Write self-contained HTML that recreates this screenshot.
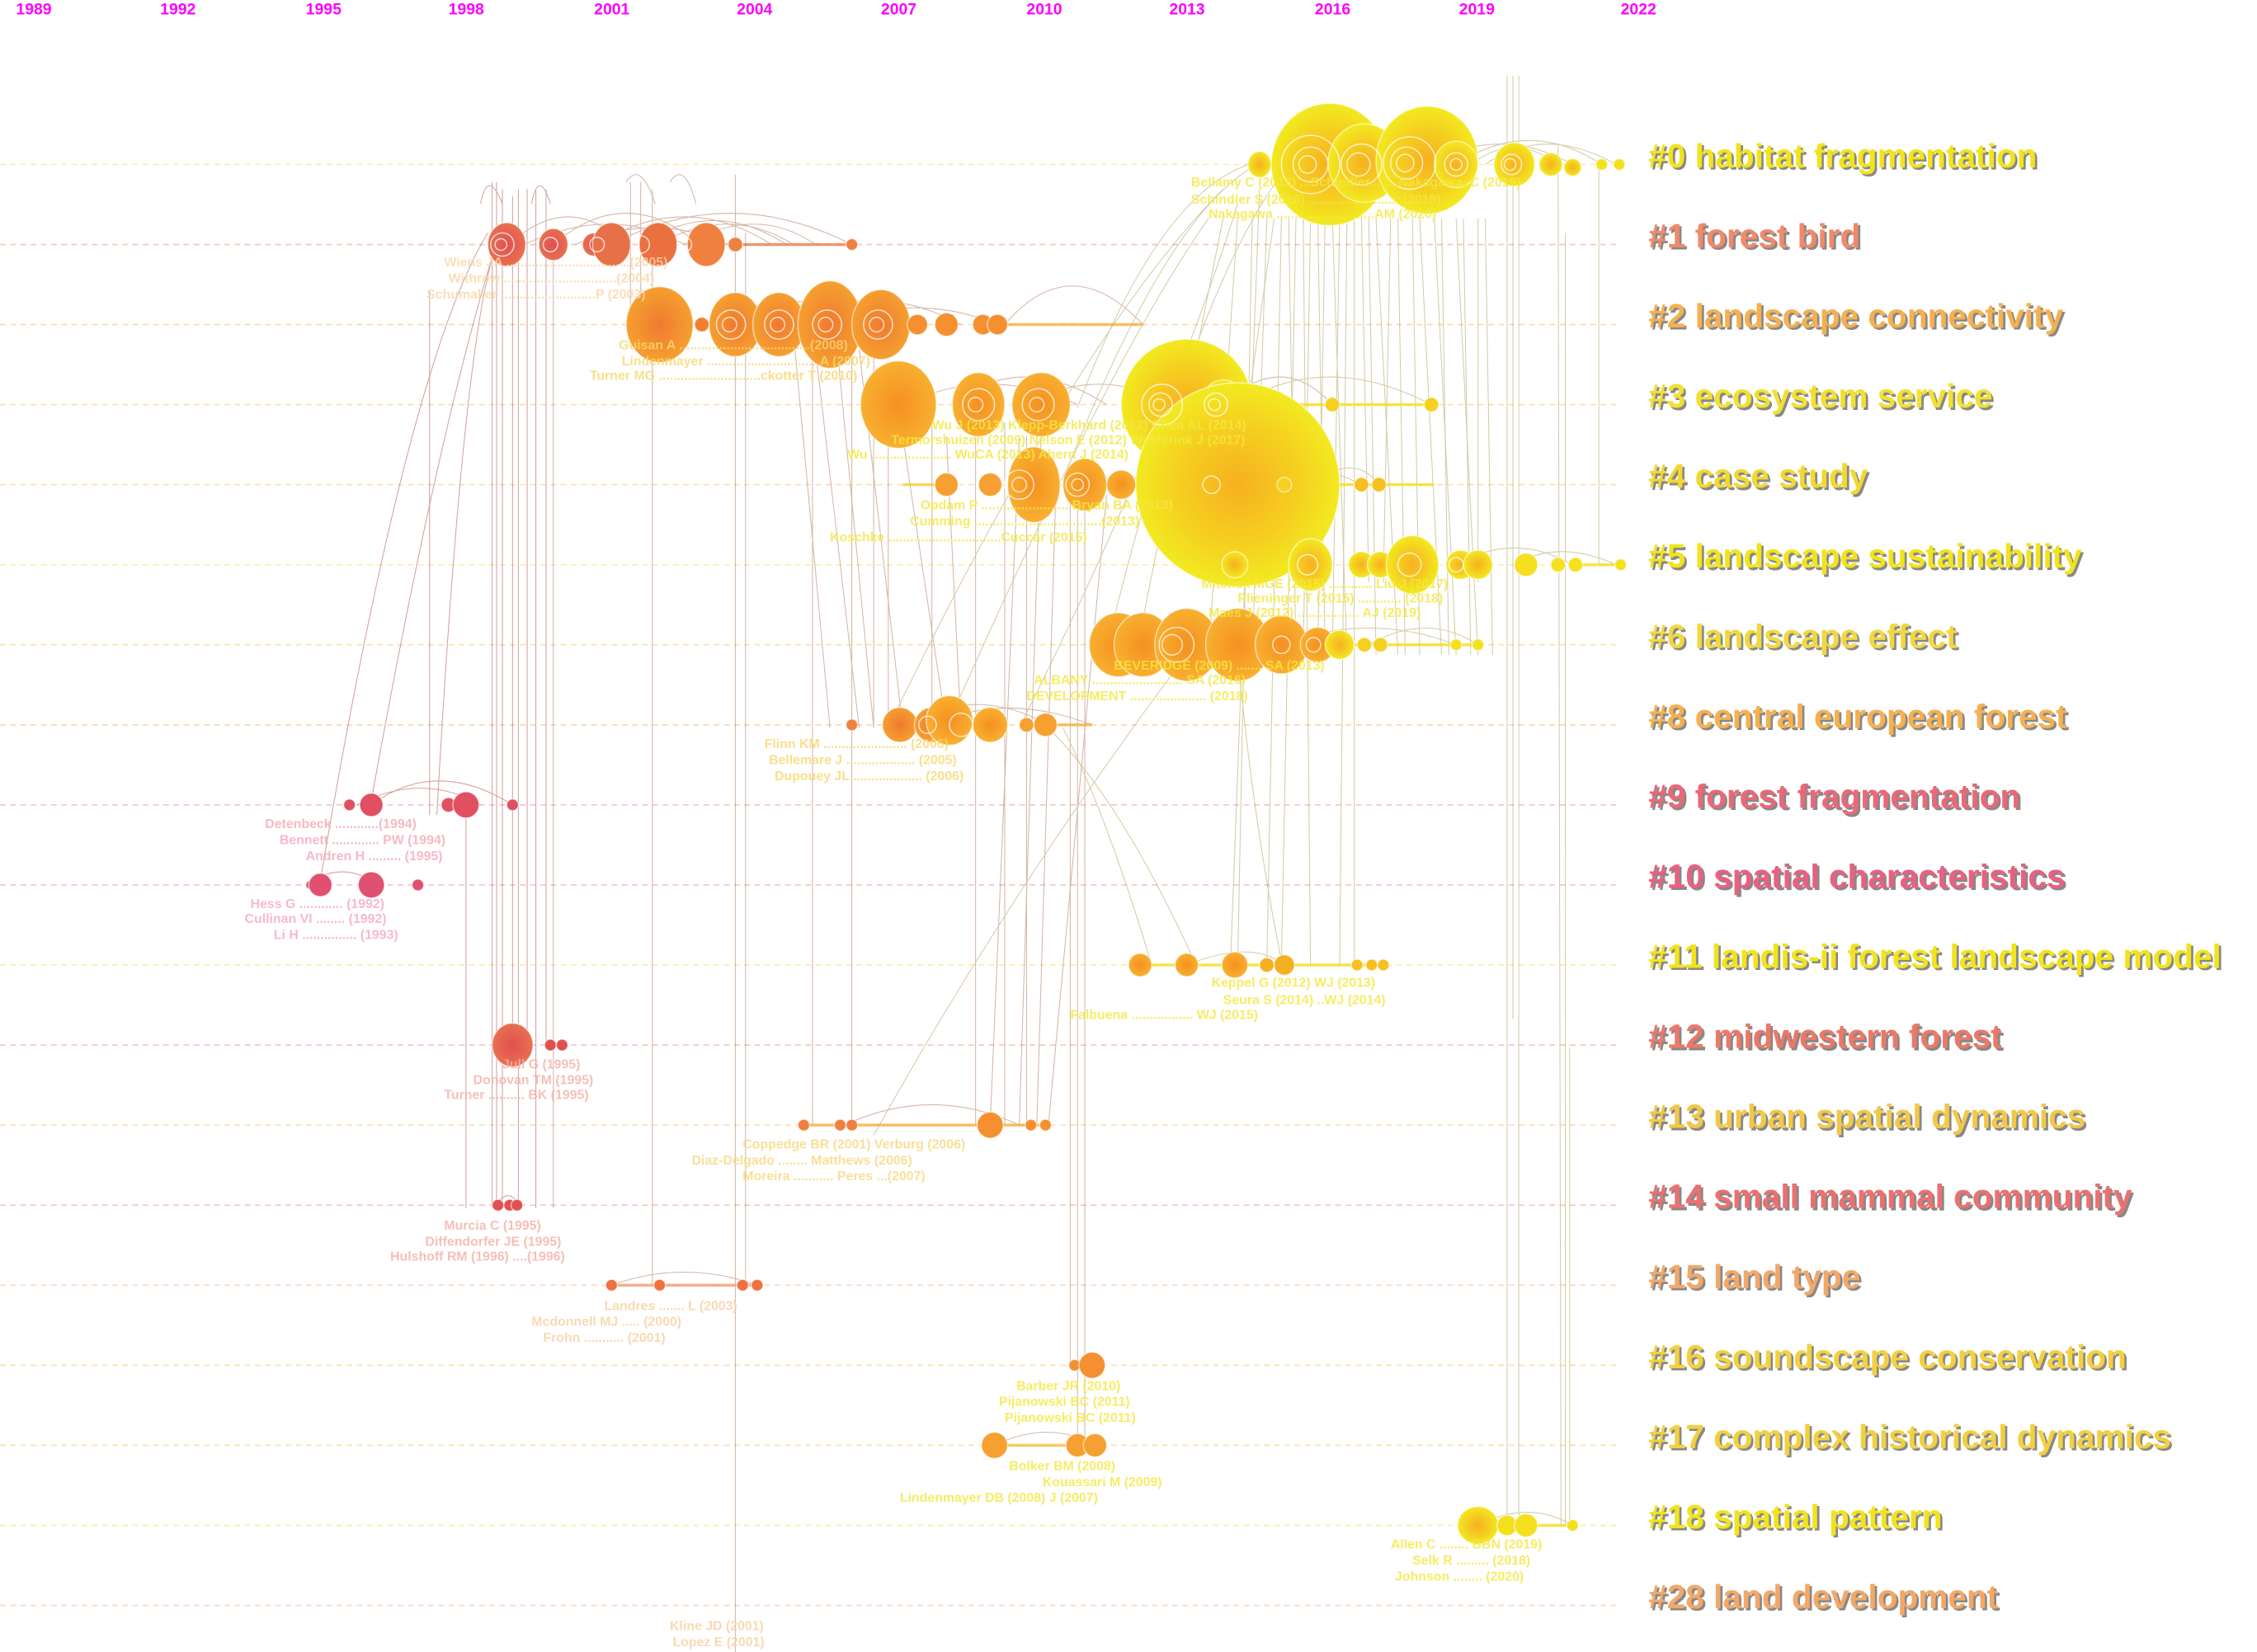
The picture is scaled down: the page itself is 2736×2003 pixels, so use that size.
<!DOCTYPE html>
<html><head><meta charset="utf-8"><style>
html,body{margin:0;padding:0;background:#fff;}
svg{display:block;}
.yr{font:bold 11px "Liberation Sans",sans-serif;fill:#ff00ff;}
.cl{font:bold 23px "Liberation Sans",sans-serif;}
.sh{fill:#888;}
.lb{font:bold 9px "Liberation Sans",sans-serif;}
</style></head><body>
<svg width="2736" height="2003" viewBox="0 0 1550 1135" preserveAspectRatio="none" xmlns="http://www.w3.org/2000/svg">
<defs>
<radialGradient id="gy"><stop offset="0" stop-color="#f7b020"/><stop offset="0.6" stop-color="#f5d020"/><stop offset="1" stop-color="#f2ea20"/></radialGradient>
<radialGradient id="go"><stop offset="0" stop-color="#f07a30"/><stop offset="1" stop-color="#f5a030"/></radialGradient>
<radialGradient id="gr"><stop offset="0" stop-color="#e05050"/><stop offset="1" stop-color="#e87050"/></radialGradient>
<radialGradient id="ga"><stop offset="0" stop-color="#f59020"/><stop offset="1" stop-color="#f8b030"/></radialGradient>
</defs>
<g class="yr">
<text x="11" y="10">1989</text><text x="110" y="10">1992</text><text x="210" y="10">1995</text><text x="308" y="10">1998</text><text x="408" y="10">2001</text><text x="506" y="10">2004</text><text x="605" y="10">2007</text><text x="705" y="10">2010</text><text x="803" y="10">2013</text><text x="903" y="10">2016</text><text x="1002" y="10">2019</text><text x="1113" y="10">2022</text>
</g>
<g stroke-width="1" stroke-dasharray="4,3" fill="none" opacity="0.6">
<line x1="0" y1="113" x2="1110" y2="113" stroke="#f8e080"/>
<line x1="0" y1="168" x2="1110" y2="168" stroke="#f4a090"/>
<line x1="0" y1="223" x2="1110" y2="223" stroke="#f8c080"/>
<line x1="0" y1="278" x2="1110" y2="278" stroke="#f8d080"/>
<line x1="0" y1="333" x2="1110" y2="333" stroke="#f8d080"/>
<line x1="0" y1="388" x2="1110" y2="388" stroke="#f8e080"/>
<line x1="0" y1="443" x2="1110" y2="443" stroke="#f8d080"/>
<line x1="0" y1="498" x2="1110" y2="498" stroke="#f8c080"/>
<line x1="0" y1="553" x2="1110" y2="553" stroke="#f0a0b0"/>
<line x1="0" y1="608" x2="1110" y2="608" stroke="#f0a0b0"/>
<line x1="0" y1="663" x2="1110" y2="663" stroke="#f8e080"/>
<line x1="0" y1="718" x2="1110" y2="718" stroke="#f4a0a0"/>
<line x1="0" y1="773" x2="1110" y2="773" stroke="#f8d090"/>
<line x1="0" y1="828" x2="1110" y2="828" stroke="#f4a0a0"/>
<line x1="0" y1="883" x2="1110" y2="883" stroke="#f8c0a0"/>
<line x1="0" y1="938" x2="1110" y2="938" stroke="#f8d080"/>
<line x1="0" y1="993" x2="1110" y2="993" stroke="#f8d080"/>
<line x1="0" y1="1048" x2="1110" y2="1048" stroke="#f8e080"/>
<line x1="0" y1="1103" x2="1110" y2="1103" stroke="#f8c0a0"/>
</g>
<g fill="none" stroke-width="0.6" opacity="0.45">
<g stroke="#a03030">
<line x1="338" y1="125" x2="338" y2="830"/><line x1="341" y1="125" x2="341" y2="830"/><line x1="345" y1="130" x2="345" y2="830"/><line x1="352" y1="135" x2="352" y2="720"/><line x1="368" y1="130" x2="368" y2="830"/><line x1="375" y1="130" x2="375" y2="720"/><line x1="320" y1="550" x2="320" y2="830"/><line x1="295" y1="200" x2="295" y2="560"/><line x1="356" y1="130" x2="356" y2="830"/><line x1="362" y1="130" x2="362" y2="720"/>
<path d="M300 560 Q320 200 345 160"/><path d="M255 550 Q300 300 340 170"/><path d="M220 605 Q280 250 335 160"/><path d="M330 140 Q335 115 345 140"/><path d="M365 140 Q370 115 378 140"/>
<path d="M210 608 Q235 590 260 608"/><path d="M245 553 Q290 530 330 553"/><path d="M255 553 Q300 520 352 553"/><path d="M340 828 Q350 815 356 828"/>
</g>
<g stroke="#a06040">
<path d="M350 168 Q390 130 430 168"/><path d="M380 168 Q430 125 480 168"/><path d="M410 168 Q470 130 530 168"/><path d="M420 168 Q500 125 585 168"/><path d="M452 168 Q500 140 545 168"/><path d="M360 168 Q420 140 470 168"/><path d="M395 168 Q450 145 500 168"/><path d="M440 168 Q490 135 540 168"/><path d="M470 168 Q520 140 560 168"/>
<line x1="433" y1="125" x2="433" y2="223"/><line x1="440" y1="125" x2="440" y2="223"/><line x1="448" y1="130" x2="448" y2="883"/><line x1="505" y1="120" x2="505" y2="1135"/><line x1="512" y1="160" x2="512" y2="883"/><line x1="380" y1="170" x2="380" y2="830"/>
<path d="M430 125 Q440 110 450 140"/><path d="M460 125 Q470 110 478 140"/>
<line x1="585" y1="230" x2="585" y2="773"/><line x1="600" y1="230" x2="600" y2="500"/><line x1="610" y1="290" x2="610" y2="500"/><line x1="640" y1="290" x2="640" y2="500"/><line x1="670" y1="290" x2="670" y2="773"/><line x1="690" y1="290" x2="690" y2="773"/><line x1="705" y1="300" x2="705" y2="773"/><line x1="735" y1="340" x2="735" y2="938"/><line x1="740" y1="340" x2="740" y2="993"/><line x1="745" y1="350" x2="745" y2="993"/><line x1="558" y1="230" x2="558" y2="773"/>
<line x1="545" y1="230" x2="570" y2="500"/><line x1="560" y1="240" x2="590" y2="500"/><line x1="575" y1="240" x2="600" y2="500"/><line x1="590" y1="240" x2="620" y2="500"/><line x1="620" y1="300" x2="650" y2="500"/><line x1="650" y1="300" x2="660" y2="500"/><line x1="700" y1="300" x2="680" y2="773"/><line x1="715" y1="300" x2="700" y2="773"/><line x1="725" y1="340" x2="712" y2="773"/><line x1="760" y1="340" x2="720" y2="773"/>
<path d="M690 223 Q735 170 785 223"/><path d="M655 278 Q700 240 760 278"/><path d="M840 278 Q880 240 915 278"/><path d="M620 278 Q680 250 740 278"/><path d="M700 278 Q760 250 800 278"/><path d="M620 498 Q670 470 720 498"/><path d="M640 498 Q690 475 750 498"/><path d="M580 773 Q640 745 700 773"/><path d="M420 883 Q470 865 520 883"/><path d="M740 938 Q745 930 750 938"/><path d="M683 993 Q720 975 752 993"/>
<path d="M505 223 Q560 190 620 223"/><path d="M535 223 Q600 190 660 223"/><path d="M570 223 Q630 200 685 223"/>
</g>
<g stroke="#a09040">
<line x1="1035" y1="52" x2="1035" y2="1048"/><line x1="1043" y1="52" x2="1043" y2="1048"/><line x1="1075" y1="160" x2="1075" y2="1048"/><line x1="1078" y1="720" x2="1078" y2="1048"/><line x1="1098" y1="113" x2="1098" y2="388"/><line x1="1039" y1="52" x2="1039" y2="700"/><line x1="1070" y1="100" x2="1072" y2="1048"/>
<line x1="880" y1="150" x2="870" y2="663"/><line x1="890" y1="150" x2="880" y2="663"/><line x1="900" y1="150" x2="895" y2="450"/><line x1="910" y1="150" x2="905" y2="450"/><line x1="920" y1="150" x2="915" y2="450"/><line x1="930" y1="150" x2="930" y2="663"/><line x1="940" y1="150" x2="945" y2="450"/><line x1="955" y1="150" x2="950" y2="400"/><line x1="970" y1="150" x2="975" y2="450"/><line x1="985" y1="150" x2="1000" y2="450"/><line x1="1000" y1="150" x2="1015" y2="450"/><line x1="1015" y1="150" x2="1015" y2="400"/><line x1="860" y1="150" x2="850" y2="663"/><line x1="850" y1="150" x2="830" y2="450"/><line x1="840" y1="150" x2="780" y2="450"/>
<line x1="885" y1="150" x2="890" y2="450"/><line x1="895" y1="150" x2="900" y2="663"/><line x1="905" y1="150" x2="910" y2="450"/><line x1="915" y1="150" x2="925" y2="450"/><line x1="925" y1="150" x2="920" y2="663"/><line x1="935" y1="150" x2="940" y2="400"/><line x1="945" y1="150" x2="960" y2="450"/><line x1="960" y1="150" x2="965" y2="450"/><line x1="975" y1="150" x2="990" y2="450"/><line x1="990" y1="150" x2="995" y2="450"/><line x1="1005" y1="150" x2="1010" y2="450"/><line x1="1020" y1="150" x2="1025" y2="450"/><line x1="870" y1="150" x2="860" y2="450"/><line x1="865" y1="130" x2="845" y2="663"/><line x1="875" y1="150" x2="840" y2="400"/>
<path d="M740 280 Q800 120 870 110"/><path d="M760 445 Q820 200 880 120"/><path d="M700 500 Q800 300 850 140"/><path d="M650 500 Q760 250 830 150"/><path d="M610 500 Q740 230 840 130"/><path d="M730 330 Q800 150 860 115"/>
<path d="M1000 113 Q1050 80 1100 113"/><path d="M1020 113 Q1060 85 1110 113"/><path d="M1010 113 Q1040 90 1070 113"/><path d="M980 113 Q1030 85 1080 113"/><path d="M1040 388 Q1070 370 1110 388"/><path d="M1000 388 Q1040 365 1080 388"/><path d="M940 443 Q980 420 1015 443"/><path d="M880 443 Q940 420 1000 443"/><path d="M850 278 Q910 240 983 278"/><path d="M800 333 Q870 300 935 333"/><path d="M900 333 Q930 310 947 333"/><path d="M815 663 Q860 645 882 663"/><path d="M1015 1048 Q1050 1030 1080 1048"/>
<path d="M600 780 Q700 600 830 430"/><path d="M880 660 Q860 560 850 450"/><path d="M820 660 Q770 550 720 500"/><path d="M790 660 Q760 560 730 500"/>
</g>
</g>
<g stroke-width="2" opacity="0.8">
<line x1="505" y1="168" x2="585" y2="168" stroke="#f08050"/>
<line x1="690" y1="223" x2="785" y2="223" stroke="#f8b040"/>
<line x1="870" y1="278" x2="983" y2="278" stroke="#f5e020"/>
<line x1="620" y1="333" x2="650" y2="333" stroke="#f5d040"/><line x1="882" y1="333" x2="985" y2="333" stroke="#f5e020"/>
<line x1="1082" y1="388" x2="1113" y2="388" stroke="#f5e020"/>
<line x1="920" y1="443" x2="1015" y2="443" stroke="#f5e020"/>
<line x1="705" y1="498" x2="750" y2="498" stroke="#f8b040"/>
<line x1="783" y1="663" x2="950" y2="663" stroke="#f5e020"/>
<line x1="552" y1="773" x2="718" y2="773" stroke="#f8b040"/>
<line x1="420" y1="883" x2="520" y2="883" stroke="#f0a070"/>
<line x1="683" y1="993" x2="752" y2="993" stroke="#f5c040"/>
<line x1="1015" y1="1048" x2="1080" y2="1048" stroke="#f5e020"/>
</g>
<g stroke="#fff" stroke-width="0.8" stroke-opacity="0.6">
<ellipse cx="865" cy="113" rx="8" ry="9" fill="url(#gy)"/>
<ellipse cx="913" cy="113" rx="40" ry="42" fill="url(#gy)"/>
<ellipse cx="937" cy="112" rx="25" ry="27" fill="url(#gy)"/>
<ellipse cx="980" cy="110" rx="35" ry="37" fill="url(#gy)"/>
<ellipse cx="1000" cy="113" rx="15" ry="16" fill="url(#gy)"/>
<ellipse cx="1040" cy="113" rx="14" ry="15" fill="url(#gy)"/>
<circle cx="1065" cy="113" r="8" fill="url(#gy)"/><circle cx="1080" cy="115" r="6" fill="url(#gy)"/><circle cx="1100" cy="113" r="4" fill="#f5e020"/><circle cx="1112" cy="113" r="4" fill="#f5e020"/>
<ellipse cx="348" cy="168" rx="13" ry="15" fill="url(#gr)"/><ellipse cx="380" cy="168" rx="10" ry="11" fill="url(#gr)"/><circle cx="408" cy="168" r="8" fill="url(#gr)"/><ellipse cx="420" cy="168" rx="13" ry="15" fill="#e87048"/><ellipse cx="452" cy="168" rx="13" ry="15" fill="#ea7040"/><ellipse cx="485" cy="168" rx="13" ry="15" fill="#f08040"/><circle cx="505" cy="168" r="5" fill="#f08040"/><circle cx="585" cy="168" r="4" fill="#f08040"/>
<ellipse cx="453" cy="223" rx="23" ry="26" fill="url(#go)"/><circle cx="482" cy="223" r="5" fill="#f08030"/><ellipse cx="505" cy="223" rx="18" ry="22" fill="url(#go)"/><ellipse cx="535" cy="223" rx="18" ry="22" fill="url(#go)"/><ellipse cx="570" cy="223" rx="22" ry="30" fill="url(#go)"/><ellipse cx="605" cy="223" rx="20" ry="24" fill="url(#go)"/><circle cx="630" cy="223" r="7" fill="#f59030"/><circle cx="650" cy="223" r="8" fill="#f59030"/><circle cx="675" cy="223" r="7" fill="#f59030"/><circle cx="685" cy="223" r="7" fill="#f59030"/>
<ellipse cx="617" cy="278" rx="26" ry="30" fill="url(#ga)"/><ellipse cx="672" cy="278" rx="18" ry="22" fill="url(#ga)"/><ellipse cx="715" cy="278" rx="20" ry="22" fill="url(#ga)"/><ellipse cx="815" cy="278" rx="45" ry="45" fill="url(#gy)"/><ellipse cx="840" cy="278" rx="15" ry="17" fill="url(#gy)"/><circle cx="870" cy="278" r="10" fill="url(#gy)"/><circle cx="915" cy="278" r="5" fill="#f5d020"/><circle cx="983" cy="278" r="5" fill="#f5d020"/>
<circle cx="650" cy="333" r="8" fill="#f5a030"/><circle cx="680" cy="333" r="8" fill="#f5a030"/><ellipse cx="710" cy="333" rx="18" ry="26" fill="url(#ga)"/><ellipse cx="745" cy="333" rx="15" ry="18" fill="url(#ga)"/><circle cx="770" cy="333" r="10" fill="url(#ga)"/>
<ellipse cx="850" cy="333" rx="70" ry="70" fill="url(#gy)"/><circle cx="882" cy="333" r="5" fill="#f5d020"/><circle cx="935" cy="333" r="5" fill="#f5c020"/><circle cx="947" cy="333" r="5" fill="#f5c020"/>
<circle cx="848" cy="388" r="9" fill="url(#gy)"/><ellipse cx="900" cy="388" rx="15" ry="18" fill="url(#gy)"/><circle cx="935" cy="388" r="9" fill="url(#gy)"/><circle cx="948" cy="388" r="9" fill="url(#gy)"/><ellipse cx="970" cy="388" rx="18" ry="20" fill="url(#gy)"/><circle cx="1003" cy="388" r="10" fill="url(#gy)"/><circle cx="1015" cy="388" r="10" fill="url(#gy)"/><circle cx="1048" cy="388" r="8" fill="#f5e020"/><circle cx="1070" cy="388" r="5" fill="#f5e020"/><circle cx="1082" cy="388" r="5" fill="#f5e020"/><circle cx="1113" cy="388" r="4" fill="#f5e020"/>
<ellipse cx="768" cy="443" rx="20" ry="22" fill="url(#ga)"/><ellipse cx="785" cy="443" rx="20" ry="22" fill="url(#ga)"/><ellipse cx="815" cy="443" rx="22" ry="25" fill="url(#ga)"/><ellipse cx="850" cy="443" rx="22" ry="25" fill="url(#ga)"/><ellipse cx="880" cy="443" rx="18" ry="20" fill="url(#ga)"/><circle cx="905" cy="443" r="12" fill="url(#ga)"/><circle cx="920" cy="443" r="10" fill="url(#gy)"/><circle cx="937" cy="443" r="5" fill="#f5d020"/><circle cx="948" cy="443" r="5" fill="#f5d020"/><circle cx="1000" cy="443" r="4" fill="#f5e020"/><circle cx="1015" cy="443" r="4" fill="#f5e020"/>
<circle cx="585" cy="498" r="4" fill="#f08040"/><circle cx="618" cy="498" r="12" fill="url(#go)"/><circle cx="640" cy="498" r="12" fill="url(#go)"/><ellipse cx="652" cy="495" rx="16" ry="17" fill="url(#ga)"/><circle cx="680" cy="498" r="12" fill="url(#ga)"/><circle cx="705" cy="498" r="5" fill="#f5a030"/><circle cx="718" cy="498" r="8" fill="#f5a030"/>
<circle cx="240" cy="553" r="4" fill="#e05060"/><circle cx="255" cy="553" r="8" fill="#e05060"/><circle cx="308" cy="553" r="5" fill="#e05060"/><circle cx="320" cy="553" r="9" fill="#e05060"/><circle cx="352" cy="553" r="4" fill="#e05060"/>
<circle cx="213" cy="608" r="3" fill="#e05070"/><circle cx="220" cy="608" r="8" fill="#e05070"/><circle cx="255" cy="608" r="9" fill="#e05070"/><circle cx="287" cy="608" r="4" fill="#e05070"/>
<circle cx="783" cy="663" r="8" fill="url(#ga)"/><circle cx="815" cy="663" r="8" fill="url(#ga)"/><circle cx="848" cy="663" r="9" fill="url(#ga)"/><circle cx="870" cy="663" r="5" fill="#f5b020"/><circle cx="882" cy="663" r="7" fill="#f5b020"/><circle cx="932" cy="663" r="4" fill="#f5c020"/><circle cx="942" cy="663" r="4" fill="#f5c020"/><circle cx="950" cy="663" r="4" fill="#f5c020"/>
<ellipse cx="352" cy="718" rx="14" ry="15" fill="url(#gr)"/><circle cx="378" cy="718" r="4" fill="#e05050"/><circle cx="386" cy="718" r="4" fill="#e05050"/>
<circle cx="552" cy="773" r="4" fill="#f08040"/><circle cx="577" cy="773" r="4" fill="#f08040"/><circle cx="585" cy="773" r="4" fill="#f08040"/><circle cx="680" cy="773" r="9" fill="#f59030"/><circle cx="708" cy="773" r="4" fill="#f59030"/><circle cx="718" cy="773" r="4" fill="#f59030"/>
<circle cx="342" cy="828" r="4" fill="#e05050"/><circle cx="350" cy="828" r="4" fill="#e05050"/><circle cx="355" cy="828" r="4" fill="#e05050"/>
<circle cx="420" cy="883" r="4" fill="#f07040"/><circle cx="453" cy="883" r="4" fill="#f07040"/><circle cx="510" cy="883" r="4" fill="#f07040"/><circle cx="520" cy="883" r="4" fill="#f07040"/>
<circle cx="738" cy="938" r="4" fill="#f59030"/><circle cx="750" cy="938" r="9" fill="#f59030"/>
<circle cx="683" cy="993" r="9" fill="#f5a030"/><circle cx="740" cy="993" r="8" fill="#f5a030"/><circle cx="752" cy="993" r="8" fill="#f5a030"/>
<ellipse cx="1015" cy="1048" rx="14" ry="13" fill="url(#gy)"/><circle cx="1035" cy="1048" r="7" fill="#f5e020"/><circle cx="1048" cy="1048" r="8" fill="#f5e020"/><circle cx="1080" cy="1048" r="4" fill="#f5e020"/>
</g>
<g fill="none" stroke="#fff" stroke-width="0.9" opacity="0.7">
<circle cx="900" cy="113" r="20"/><circle cx="900" cy="113" r="12"/><circle cx="898" cy="113" r="6"/>
<circle cx="935" cy="113" r="14"/><circle cx="933" cy="113" r="8"/>
<circle cx="968" cy="112" r="18"/><circle cx="966" cy="112" r="11"/><circle cx="965" cy="112" r="6"/>
<circle cx="1000" cy="113" r="8"/><circle cx="1000" cy="113" r="4"/><circle cx="1038" cy="113" r="7"/><circle cx="1037" cy="113" r="4"/>
<circle cx="345" cy="168" r="8"/><circle cx="344" cy="168" r="4"/><circle cx="378" cy="168" r="5"/><circle cx="410" cy="168" r="5"/><circle cx="440" cy="168" r="6"/><circle cx="470" cy="168" r="5"/>
<circle cx="502" cy="223" r="10"/><circle cx="501" cy="223" r="5"/><circle cx="535" cy="223" r="10"/><circle cx="534" cy="223" r="5"/><circle cx="568" cy="223" r="10"/><circle cx="567" cy="223" r="5"/><circle cx="603" cy="223" r="10"/><circle cx="602" cy="223" r="5"/>
<circle cx="672" cy="278" r="11"/><circle cx="670" cy="278" r="5"/><circle cx="713" cy="278" r="11"/><circle cx="712" cy="278" r="5"/><circle cx="798" cy="278" r="14"/><circle cx="797" cy="278" r="8"/><circle cx="796" cy="278" r="4"/><circle cx="835" cy="278" r="8"/><circle cx="834" cy="278" r="4"/>
<circle cx="700" cy="333" r="10"/><circle cx="700" cy="333" r="5"/><circle cx="740" cy="333" r="8"/><circle cx="740" cy="333" r="4"/><circle cx="832" cy="333" r="6"/>
<circle cx="898" cy="388" r="7"/><circle cx="968" cy="388" r="8"/><circle cx="1000" cy="388" r="5"/>
<circle cx="808" cy="443" r="12"/><circle cx="805" cy="443" r="7"/><circle cx="880" cy="443" r="6"/><circle cx="902" cy="443" r="5"/>
<circle cx="637" cy="498" r="6"/><circle cx="660" cy="498" r="8"/>
</g>
<g class="lb" opacity="0.8">
<g fill="#f5e840"><text x="818" y="128">Bellamy C (2013) ...Schindler........Nakagawa..C (2019)</text><text x="818" y="140">Schindler S (2016) ..........................(2019)</text><text x="830" y="150">Nakagawa ...........................AM (2020)</text></g>
<g fill="#f8d8a8"><text x="305" y="183">Wiens JA ..................................(2005)</text><text x="308" y="194">Withrow ...............................(2004)</text><text x="293" y="205">Schumaker ..........................P (2003)</text></g>
<g fill="#f8d870"><text x="425" y="240">Guisan A ....................................(2008)</text><text x="427" y="251">Lindenmayer ...............................A (2007)</text><text x="405" y="261">Turner MG ............................ckotter T (2010)</text></g>
<g fill="#f5e840"><text x="640" y="295">Wu J (2013) Klepp-Berkhard (2012)  Chen AL (2014)</text><text x="612" y="305">Termorshuizen (2009) Nelson E (2012) Westerink J (2017)</text><text x="582" y="315">Wu ...................... WuCA (2013)  Ahern J (2014)</text></g>
<g fill="#f5e840"><text x="632" y="350">Opdam P ........................ Bryan BA (2013)</text><text x="625" y="361">Cumming ...................................(2013)</text><text x="570" y="372">Koschke ...............................Cuccar (2015)</text></g>
<g fill="#f5e840"><text x="825" y="404">Mitchell MGE (2015) ............ Liu J (2017)</text><text x="850" y="414">Plieninger T (2015) ............ (2018)</text><text x="830" y="424">Maes J (2012) ................. AJ (2019)</text></g>
<g fill="#f5e840"><text x="765" y="460">BEVERIDGE (2009) ....... SA (2013)</text><text x="710" y="470">ALBANY ......................... SA (2016)</text><text x="705" y="481">DEVELOPMENT ..................... (2018)</text></g>
<g fill="#f8d870"><text x="525" y="514">Flinn KM ....................... (2006)</text><text x="528" y="525">Bellemare J ................... (2005)</text><text x="532" y="536">Dupouey JL ................... (2006)</text></g>
<g fill="#f4a8b8"><text x="182" y="569">Detenbeck ............(1994)</text><text x="192" y="580">Bennett ............. PW (1994)</text><text x="210" y="591">Andren H ......... (1995)</text></g>
<g fill="#f4a8c8"><text x="172" y="624">Hess G ............ (1992)</text><text x="168" y="634">Cullinan VI ........ (1992)</text><text x="188" y="645">Li H ............... (1993)</text></g>
<g fill="#f5e840"><text x="832" y="678">Keppel G (2012)  WJ (2013)</text><text x="840" y="690">Seura S (2014) ..WJ (2014)</text><text x="735" y="700">Falbuena ................. WJ (2015)</text></g>
<g fill="#f4b0a8"><text x="345" y="734">Jull G (1995)</text><text x="325" y="745">Donovan TM (1995)</text><text x="305" y="755">Turner .......... BK (1995)</text></g>
<g fill="#f8d880"><text x="510" y="789">Coppedge BR (2001) Verburg (2006)</text><text x="475" y="800">Diaz-Delgado ........ Matthews (2006)</text><text x="510" y="811">Moreira ........... Peres ...(2007)</text></g>
<g fill="#f4b0a8"><text x="305" y="845">Murcia C (1995)</text><text x="292" y="856">Diffendorfer JE (1995)</text><text x="268" y="866">Hulshoff RM (1996) ....(1996)</text></g>
<g fill="#f8d0a0"><text x="415" y="900">Landres ....... L (2003)</text><text x="365" y="911">Mcdonnell MJ ..... (2000)</text><text x="373" y="922">Frohn ........... (2001)</text></g>
<g fill="#f5e840"><text x="698" y="955">Barber JR (2010)</text><text x="686" y="966">Pijanowski BC (2011)</text><text x="690" y="977">Pijanowski BC (2011)</text></g>
<g fill="#f5e840"><text x="693" y="1010">Bolker BM (2008)</text><text x="716" y="1021">Kouassari M (2009)</text><text x="618" y="1032">Lindenmayer DB (2008)  J (2007)</text></g>
<g fill="#f5e840"><text x="955" y="1064">Allen C ........ BBN (2019)</text><text x="970" y="1075">Selk R ......... (2018)</text><text x="958" y="1086">Johnson ........ (2020)</text></g>
<g fill="#f8d0a0"><text x="460" y="1120">Kline JD (2001)</text><text x="462" y="1131">Lopez E (2001)</text><text x="477" y="1142">Irwin EG (2001)</text></g>
</g>
<g class="cl">
<g class="sh" transform="translate(1.5,1.5)">
<text x="1132" y="115">#0 habitat fragmentation</text><text x="1132" y="170">#1 forest bird</text><text x="1132" y="225">#2 landscape connectivity</text><text x="1132" y="280">#3 ecosystem service</text><text x="1132" y="335">#4 case study</text><text x="1132" y="390">#5 landscape sustainability</text><text x="1132" y="445">#6 landscape effect</text><text x="1132" y="500">#8 central european forest</text><text x="1132" y="555">#9 forest fragmentation</text><text x="1132" y="610">#10 spatial characteristics</text><text x="1132" y="665">#11 landis-ii forest landscape model</text><text x="1132" y="720">#12 midwestern forest</text><text x="1132" y="775">#13 urban spatial dynamics</text><text x="1132" y="830">#14 small mammal community</text><text x="1132" y="885">#15 land type</text><text x="1132" y="940">#16 soundscape conservation</text><text x="1132" y="995">#17 complex historical dynamics</text><text x="1132" y="1050">#18 spatial pattern</text><text x="1132" y="1105">#28 land development</text>
</g>
<text x="1132" y="115" fill="#f2e31c">#0 habitat fragmentation</text>
<text x="1132" y="170" fill="#f08a6a">#1 forest bird</text>
<text x="1132" y="225" fill="#f5b050">#2 landscape connectivity</text>
<text x="1132" y="280" fill="#f2e030">#3 ecosystem service</text>
<text x="1132" y="335" fill="#f2d830">#4 case study</text>
<text x="1132" y="390" fill="#f2e31c">#5 landscape sustainability</text>
<text x="1132" y="445" fill="#f2d840">#6 landscape effect</text>
<text x="1132" y="500" fill="#f5b050">#8 central european forest</text>
<text x="1132" y="555" fill="#ea6878">#9 forest fragmentation</text>
<text x="1132" y="610" fill="#ea6080">#10 spatial characteristics</text>
<text x="1132" y="665" fill="#f2e31c">#11 landis-ii forest landscape model</text>
<text x="1132" y="720" fill="#ec7868">#12 midwestern forest</text>
<text x="1132" y="775" fill="#f2c848">#13 urban spatial dynamics</text>
<text x="1132" y="830" fill="#ec7070">#14 small mammal community</text>
<text x="1132" y="885" fill="#f2a868">#15 land type</text>
<text x="1132" y="940" fill="#f2d040">#16 soundscape conservation</text>
<text x="1132" y="995" fill="#f2d040">#17 complex historical dynamics</text>
<text x="1132" y="1050" fill="#f2e31c">#18 spatial pattern</text>
<text x="1132" y="1105" fill="#f2a868">#28 land development</text>
</g>
</svg>
</body></html>
